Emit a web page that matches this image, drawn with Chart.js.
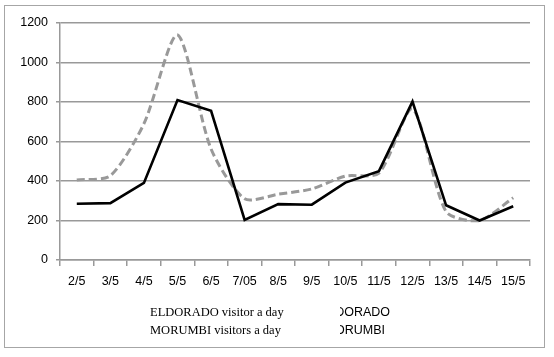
<!DOCTYPE html>
<html><head><meta charset="utf-8">
<script src="https://cdn.jsdelivr.net/npm/chart.js@4"></script>
<style>
html,body{margin:0;padding:0;background:#fff;}
#wrap{position:relative;width:554px;height:357px;}
#frame{position:absolute;left:4px;top:5px;width:539px;height:341px;border:1.5px solid #a6a6a6;}
canvas{position:absolute;left:0;top:0;}
.leg{position:absolute;font-family:"Liberation Serif","Times New Roman",serif;font-size:12.5px;color:#000;white-space:nowrap;}
.clip{position:absolute;overflow:hidden;height:18px;font-family:"Liberation Sans",Arial,sans-serif;font-size:12.5px;color:#000;}
.clip span{position:absolute;right:0;top:0;white-space:nowrap;}
</style></head>
<body><div id="wrap"><div id="frame"></div><canvas id="c" width="554" height="357"></canvas>
<div class="leg" style="left:150px;top:305px;">ELDORADO visitor a day</div>
<div class="leg" style="left:150px;top:323px;">MORUMBI visitors a day</div>
<div class="clip" style="left:340px;top:305px;width:50px;"><span>ELDORADO</span></div>
<div class="clip" style="left:340px;top:323px;width:45px;"><span>MORUMBI</span></div>
</div>
<script>
const categories = ["2/5","3/5","4/5","5/5","6/5","7/05","8/5","9/5","10/5","11/5","12/5","13/5","14/5","15/5"];
const eldorado = [285,288,390,810,755,203,283,280,392,450,802,277,200,272];
const morumbi = [405,427,690,1140,562,310,333,360,425,440,765,245,200,315];
const yTicks = [0,200,400,600,800,1000,1200];

new Chart(document.getElementById('c'), {
  type: 'line',
  data: {
    labels: categories,
    datasets: [
      {label:'ELDORADO visitor a day', data: eldorado, borderColor:'#000', borderWidth:2.6, pointRadius:0, tension:0, fill:false},
      {label:'MORUMBI visitors a day', data: morumbi, borderColor:'#999', borderWidth:3, borderDash:[8,4], pointRadius:0, tension:0.25, fill:false}
    ]
  },
  options: {
    responsive:false, animation:false,
    layout:{padding:{top:23,right:24,left:0,bottom:0}},
    plugins:{legend:{display:false}, tooltip:{enabled:false}},
    scales:{
      x:{
        offset:true,
        grid:{offset:true, drawOnChartArea:false, drawTicks:true, tickLength:6, color:'#999', lineWidth:1.5},
        border:{color:'#999', width:1.5},
        ticks:{color:'#000', padding:8, font:{family:'"Liberation Sans", Arial, sans-serif', size:12.5}, maxRotation:0, autoSkip:false},
        afterFit:(s)=>{s.height = 97;}
      },
      y:{
        min:0, max:1200,
        afterBuildTicks:(s)=>{s.ticks = yTicks.map(v=>({value:v}));},
        grid:{color:'#999', lineWidth:1.5, tickLength:4},
        border:{color:'#999', width:1.5},
        ticks:{color:'#000', padding:8, font:{family:'"Liberation Sans", Arial, sans-serif', size:12.5}, callback:(v)=>String(v)},
        afterFit:(s)=>{s.width = 60;}
      }
    }
  }
});
</script></body></html>
